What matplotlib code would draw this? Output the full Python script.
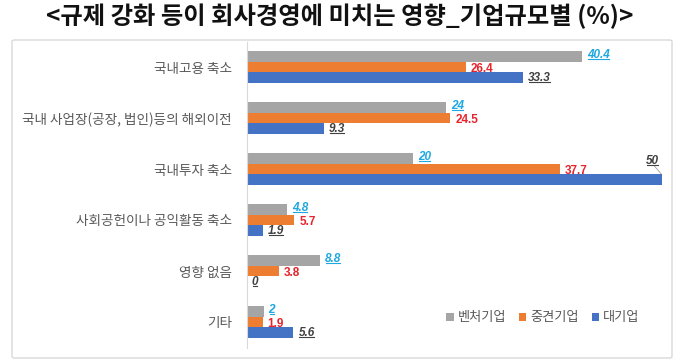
import matplotlib
matplotlib.use('Agg')
import matplotlib.pyplot as plt
from matplotlib.patches import FancyBboxPatch
from matplotlib.lines import Line2D
import numpy as np

plt.rcParams['font.family'] = ['Noto Sans CJK KR', 'DejaVu Sans']

# data
categories = ['국내고용 축소', '국내 사업장(공장, 법인)등의 해외이전', '국내투자 축소',
              '사회공헌이나 공익활동 축소', '영향 없음', '기타']
series_names = ['벤처기업', '중견기업', '대기업']
venture = [40.4, 24, 20, 4.8, 8.8, 2]
midsize = [26.4, 24.5, 37.7, 5.7, 3.8, 1.9]
large = [33.3, 9.3, 50, 1.9, 0, 5.6]

bar_colors = ['#A5A5A5', '#ED7D31', '#4472C4']
label_colors = ['#1FA8E0', '#E8232B', '#404040']
label_italic = [True, False, True]
label_underline = [True, False, True]
label_nudge = [-0.03, 0.03, 0.0]

W, H = 680, 364
fig = plt.figure(figsize=(W / 100, H / 100), dpi=100)

# outer frame
frame = FancyBboxPatch((12 / W, 6 / H), 660 / W, 318 / H, boxstyle='round,pad=0,rounding_size=0.004',
                       transform=fig.transFigure, facecolor='white', edgecolor='#D9D9D9', linewidth=1.0,
                       zorder=-1)
fig.patches.append(frame)

fig.text(340 / W, 1 - 16 / H, '<규제 강화 등이 회사경영에 미치는 영향_기업규모별 (%)>',
         ha='center', va='center', fontsize=17.5, fontweight='bold', color='#111111')

ax = fig.add_axes([247 / W, 1 - 347.5 / H, 415 / W, 306 / H])
ax.set_xlim(0, 50)
ax.set_ylim(5.5, -0.5)

num_font = ['Liberation Sans', 'DejaVu Sans']
y = np.arange(len(categories))
h = 0.215
all_series = [venture, midsize, large]
under_texts = []
for k, vals in enumerate(all_series):
    offs = (k - 1) * h
    ax.barh(y + offs, vals, height=h, color=bar_colors[k], label=series_names[k])
    for i, v in enumerate(vals):
        txt = f'{v:g}'
        st = 'italic' if label_italic[k] else 'normal'
        if v == max(large) and k == 2:
            t = ax.text(v - 1.2, y[i] + offs - 0.38, txt, ha='center', va='center', family=num_font,
                        fontsize=8.5, fontweight='bold', style=st, color=label_colors[k], clip_on=False)
            ax.plot([v - 0.9, v - 0.1], [y[i] + offs - 0.27, y[i] + offs - 0.12], color='#A0A0A0', lw=0.6, clip_on=False)
        else:
            t = ax.text(v + 0.6, y[i] + offs + label_nudge[k], txt, ha='left', va='center', fontsize=8.5,
                        fontweight='bold', family=num_font, style=st, color=label_colors[k])
        if label_underline[k]:
            under_texts.append(t)

ax.set_yticks(y)
ax.set_yticklabels(categories, fontsize=9.8, color='#595959')
ax.tick_params(axis='y', length=0, pad=11)
ax.set_xticks([])
for s in ['top', 'right', 'bottom']:
    ax.spines[s].set_visible(False)
ax.spines['left'].set_color('#D9D9D9')
ax.patch.set_alpha(0)

leg = fig.legend(loc='center', bbox_to_anchor=(543 / W, 1 - 318 / H), ncol=3, frameon=False,
                 fontsize=9.5, handlelength=0.55, handleheight=0.55, handletextpad=0.3, columnspacing=1.0)
for t in leg.get_texts():
    t.set_color('#595959')

# underline some labels
fig.canvas.draw()
inv = fig.transFigure.inverted()
for t in under_texts:
    bb = t.get_window_extent()
    (x0, y0) = inv.transform((bb.x0 + 1, bb.y0 + 1.5))
    (x1, _) = inv.transform((bb.x1 - 1, bb.y0 + 1.5))
    fig.lines.append(Line2D([x0, x1], [y0, y0], transform=fig.transFigure, color=t.get_color(), lw=0.8))

fig.savefig('out.png', dpi=100)
